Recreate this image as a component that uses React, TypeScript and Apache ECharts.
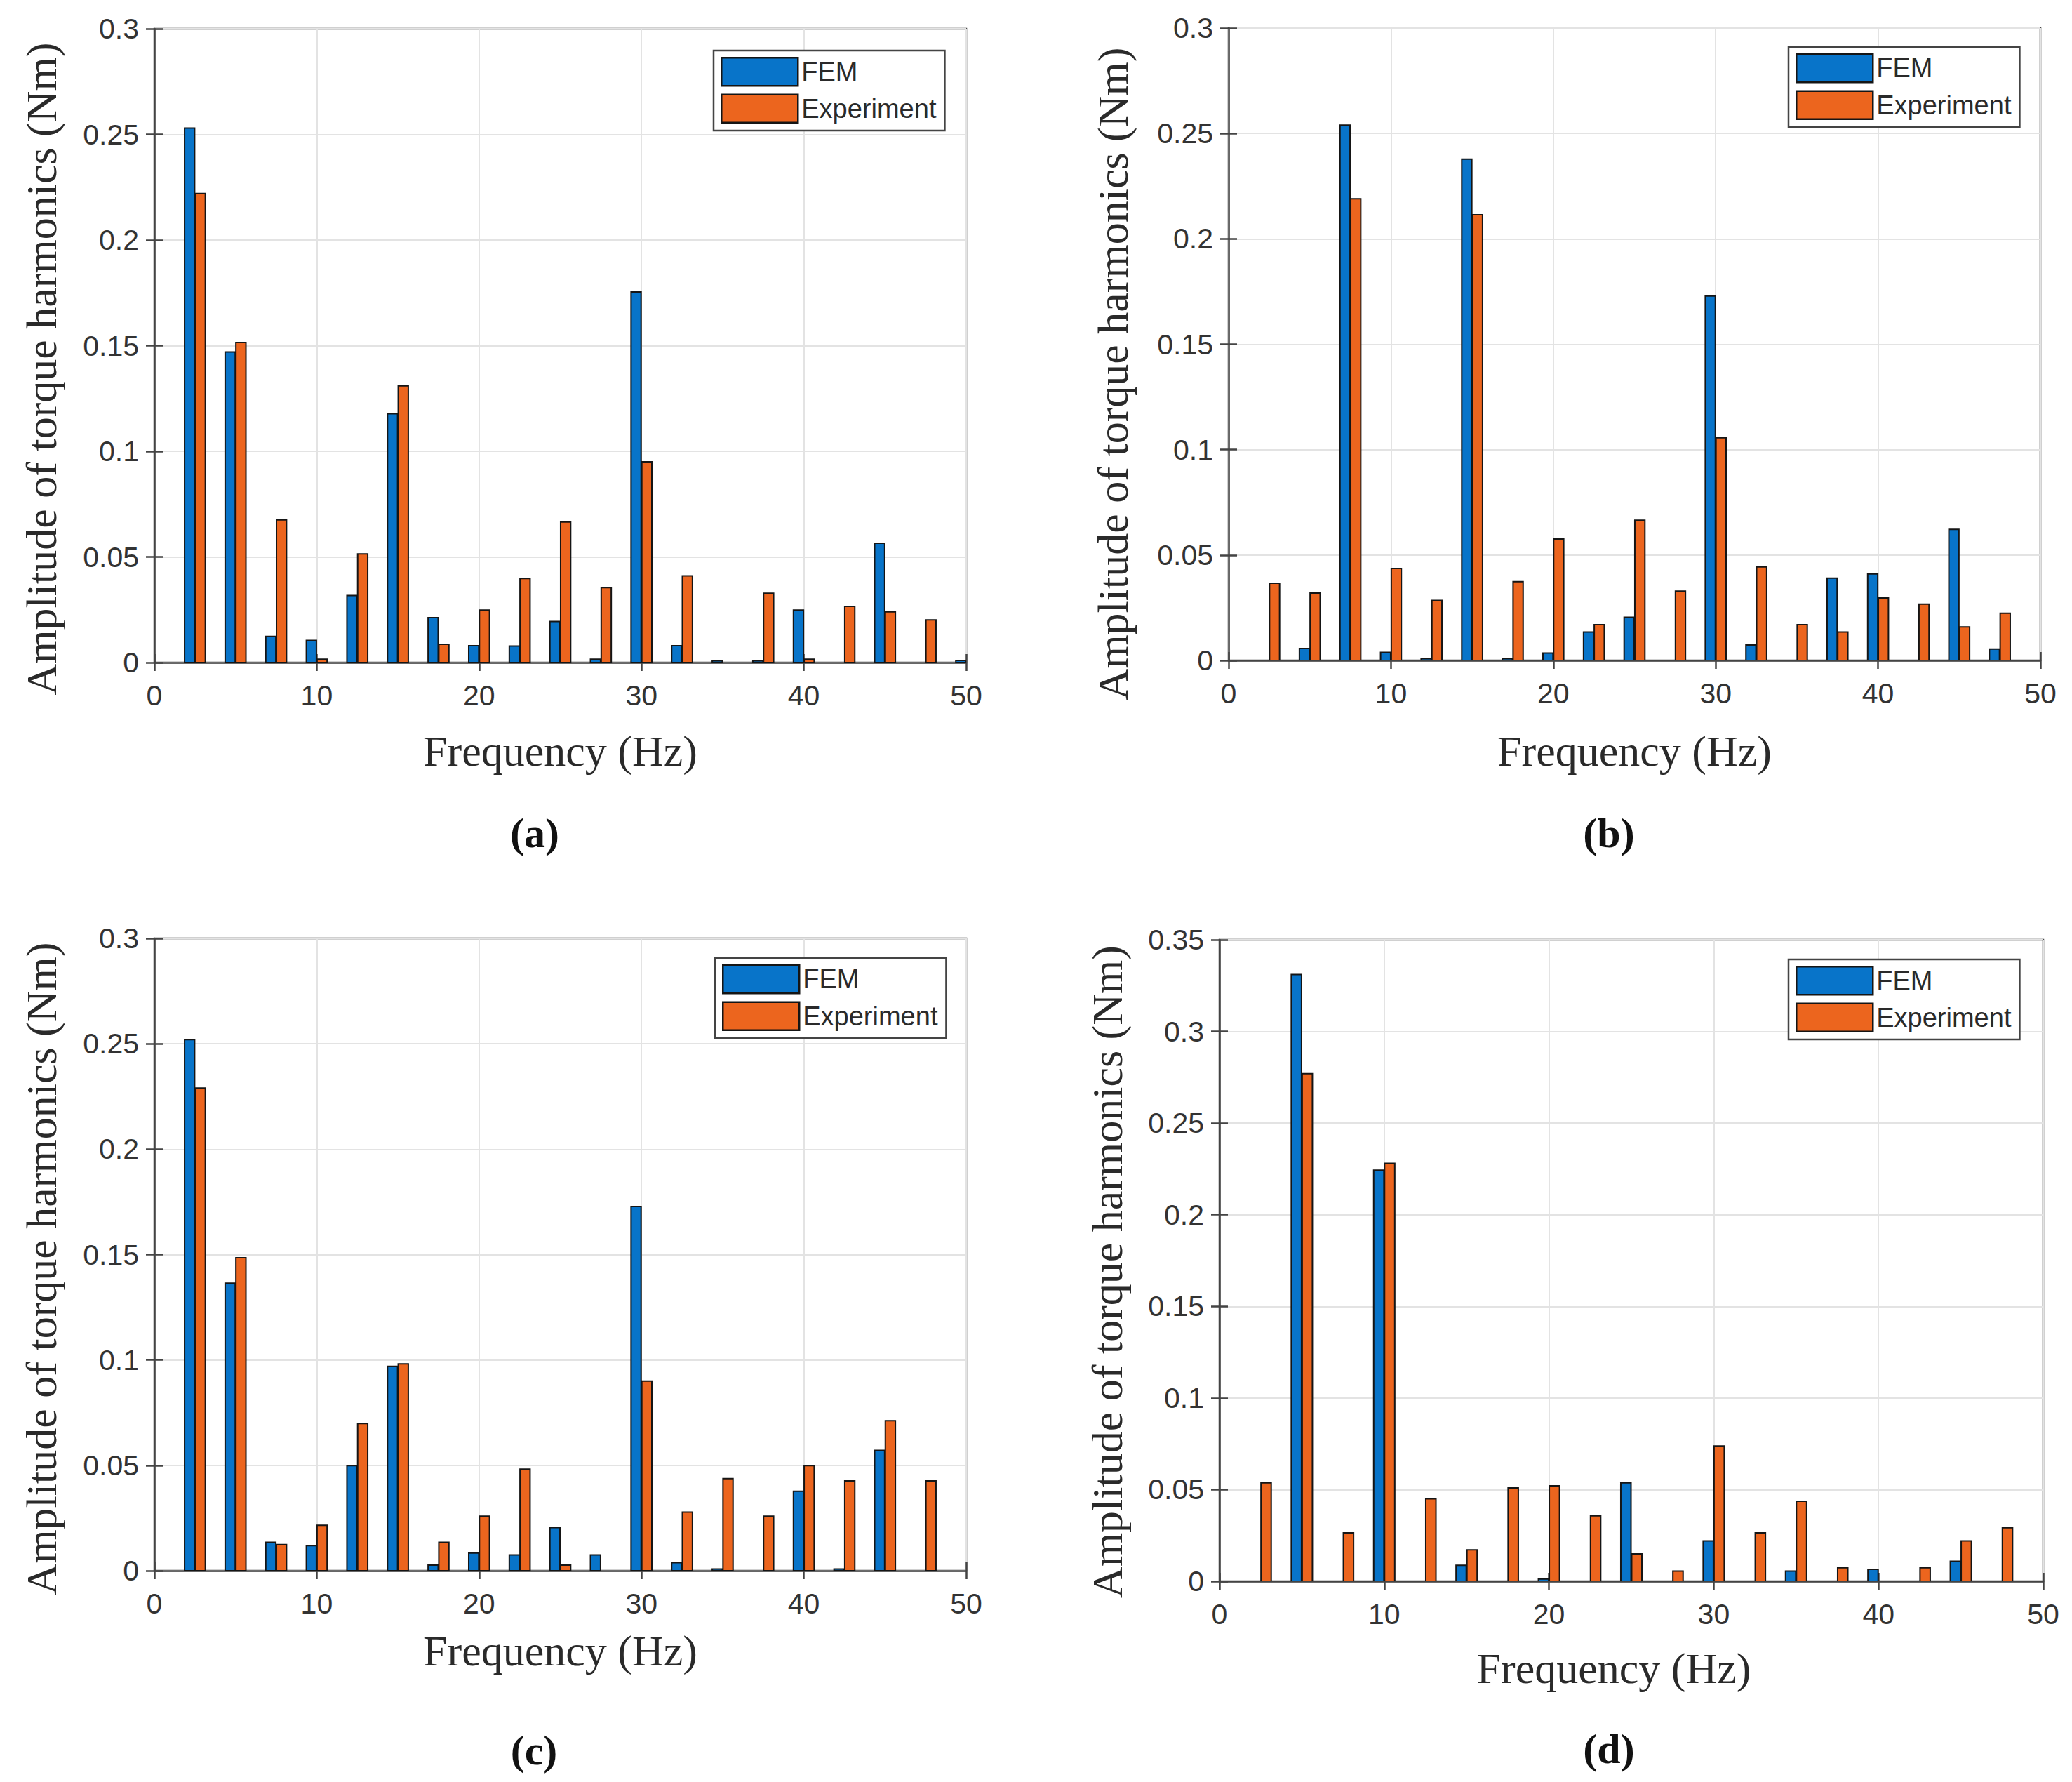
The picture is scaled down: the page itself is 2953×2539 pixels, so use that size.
import React, { useEffect, useRef } from "react";
import * as echarts from "echarts";

const FREQ = [2.5, 5, 7.5, 10, 12.5, 15, 17.5, 20, 22.5, 25, 27.5, 30, 32.5, 35, 37.5, 40, 42.5, 45, 47.5, 50];
const X_TICKS = [0, 10, 20, 30, 40, 50];

const A_FEM = [0.253, 0.147, 0.0124, 0.0105, 0.0317, 0.1178, 0.0213, 0.008, 0.0078, 0.0194, 0.0016, 0.1754, 0.008, 0.0008, 0.0008, 0.0248, 0, 0.0565, 0, 0.001];
const A_EXP = [0.222, 0.1515, 0.0675, 0.0016, 0.0514, 0.131, 0.0086, 0.0248, 0.0398, 0.0665, 0.0355, 0.095, 0.041, 0, 0.0328, 0.0016, 0.0266, 0.024, 0.0202, 0];

const B_FEM = [0, 0.0057, 0.254, 0.0038, 0.0008, 0.2378, 0.0008, 0.0035, 0.0135, 0.0205, 0, 0.1729, 0.0073, 0, 0.039, 0.041, 0, 0.0622, 0.0054, 0];
const B_EXP = [0.0366, 0.032, 0.219, 0.0436, 0.0285, 0.2114, 0.0374, 0.0576, 0.017, 0.0665, 0.0329, 0.1056, 0.0444, 0.017, 0.0135, 0.0296, 0.0267, 0.0159, 0.0224, 0];

const C_FEM = [0.252, 0.1364, 0.0135, 0.0119, 0.0499, 0.097, 0.0027, 0.0084, 0.0075, 0.0205, 0.0075, 0.1728, 0.0038, 0.0008, 0, 0.0377, 0.0008, 0.0571, 0, 0];
const C_EXP = [0.229, 0.1485, 0.0124, 0.0216, 0.0698, 0.0981, 0.0135, 0.0259, 0.0482, 0.0027, 0, 0.09, 0.0278, 0.0437, 0.0259, 0.0499, 0.0426, 0.0712, 0.0426, 0];

const D_FEM = [0, 0.331, 0, 0.2243, 0, 0.0087, 0, 0.0012, 0, 0.0537, 0, 0.022, 0, 0.0056, 0, 0.0065, 0, 0.0109, 0, 0];
const D_EXP = [0.0537, 0.277, 0.0264, 0.228, 0.045, 0.0171, 0.0509, 0.0521, 0.0357, 0.0149, 0.0056, 0.0738, 0.0264, 0.0437, 0.0074, 0, 0.0074, 0.022, 0.0292, 0];

const Y_MAX = [0.3, 0.3, 0.3, 0.35];
const SUB_LABELS = ["(a)", "(b)", "(c)", "(d)"];
const SERIES_NAMES = ["FEM", "Experiment"];
const X_NAME = "Frequency (Hz)";
const Y_NAME = "Amplitude of torque harmonics (Nm)";

const PANELS = [
  { fem: A_FEM, exp: A_EXP },
  { fem: B_FEM, exp: B_EXP },
  { fem: C_FEM, exp: C_EXP },
  { fem: D_FEM, exp: D_EXP },
];

// layout (pixels)
const GRIDS = [
  { left: 220, top: 41, width: 1157, height: 903 },
  { left: 1751, top: 40, width: 1157, height: 901 },
  { left: 220, top: 1337, width: 1157, height: 901 },
  { left: 1738, top: 1339, width: 1174, height: 914 },
];
const LEGEND_POS = [
  { left: 1017, top: 72 },
  { left: 2549, top: 67 },
  { left: 1019, top: 1365 },
  { left: 2549, top: 1367 },
];
const SUB_POS = [
  { x: 762, y: 1187 },
  { x: 2293, y: 1187 },
  { x: 761, y: 2494 },
  { x: 2293, y: 2492 },
];
const X_NAME_GAP = [95, 98, 83, 93];
const Y_NAME_GAP = [130, 134, 130, 129];
const Y_NAME_SHIFT = [33, 42, 20, 16];

const FEM_COLOR = "#0874C9";
const EXP_COLOR = "#EC651E";
const BAR_W = 0.62;
const BAR_OFF = 0.33;
const SANS = "'Liberation Sans', Arial, sans-serif";
const SERIF = "'Liberation Serif', 'Times New Roman', serif";
const AXIS_COLOR = "#444";
const TEXT_COLOR = "#2a2a2a";

function makeRender(off: number, color: string) {
  return (params: any, api: any) => {
    const x = api.value(0);
    const v = api.value(1);
    if (!v) return null;
    const a = api.coord([x + off - BAR_W / 2, v]);
    const b = api.coord([x + off + BAR_W / 2, 0]);
    return {
      type: "rect",
      shape: { x: a[0], y: a[1], width: b[0] - a[0], height: b[1] - a[1] },
      style: { fill: color, stroke: "#151515", lineWidth: 2 },
    };
  };
}

function buildOption() {
  const grid: any[] = [];
  const xAxis: any[] = [];
  const yAxis: any[] = [];
  const series: any[] = [];
  const legend: any[] = [];
  const graphic: any[] = [];

  PANELS.forEach((p, i) => {
    grid.push({
      ...GRIDS[i],
      containLabel: false,
      show: true,
      borderColor: AXIS_COLOR,
      borderWidth: 2.5,
      backgroundColor: "#fff",
    });
    const xBase = {
      type: "value",
      gridIndex: i,
      min: X_TICKS[0],
      max: X_TICKS[X_TICKS.length - 1],
      interval: 10,
    };
    xAxis.push({
      ...xBase,
      position: "bottom",
      name: X_NAME,
      nameLocation: "middle",
      nameGap: X_NAME_GAP[i],
      nameTextStyle: { fontFamily: SERIF, fontSize: 62, color: TEXT_COLOR, padding: i === 3 ? [0, 50, 0, 0] : [0, 0, 0, 0] },
      axisLine: { show: true, lineStyle: { color: AXIS_COLOR, width: 2.5 } },
      axisTick: { show: true, inside: true, length: 12, lineStyle: { color: AXIS_COLOR, width: 2.5 } },
      axisLabel: { show: true, margin: 26, fontFamily: SANS, fontSize: 41, color: "#333" },
      splitLine: { show: true, lineStyle: { color: "#e3e3e3", width: 2 } },
    });
    xAxis.push({
      ...xBase,
      position: "top",
      axisLine: { show: false },
      axisTick: { show: true, inside: true, length: 12, lineStyle: { color: AXIS_COLOR, width: 2.5 } },
      axisLabel: { show: false },
      splitLine: { show: false },
    });
    const yBase = {
      type: "value",
      gridIndex: i,
      min: 0,
      max: Y_MAX[i],
      interval: 0.05,
    };
    yAxis.push({
      ...yBase,
      position: "left",
      name: Y_NAME,
      nameLocation: "middle",
      nameRotate: 90,
      nameGap: Y_NAME_GAP[i],
      nameTextStyle: {
        fontFamily: SERIF,
        fontSize: 62,
        color: TEXT_COLOR,
        padding: [0, Y_NAME_SHIFT[i] * 2, 0, 0],
      },
      axisLine: { show: true, lineStyle: { color: AXIS_COLOR, width: 2.5 } },
      axisTick: { show: true, inside: true, length: 12, lineStyle: { color: AXIS_COLOR, width: 2.5 } },
      axisLabel: {
        show: true,
        margin: 22,
        fontFamily: SANS,
        fontSize: 41,
        color: "#333",
        formatter: (v: number) => String(Math.round(v * 100) / 100),
      },
      splitLine: { show: true, lineStyle: { color: "#e3e3e3", width: 2 } },
    });
    yAxis.push({
      ...yBase,
      position: "right",
      axisLine: { show: false },
      axisTick: { show: true, inside: true, length: 12, lineStyle: { color: AXIS_COLOR, width: 2.5 } },
      axisLabel: { show: false },
      splitLine: { show: false },
    });

    series.push({
      type: "custom",
      name: SERIES_NAMES[0],
      xAxisIndex: i * 2,
      yAxisIndex: i * 2,
      clip: true,
      itemStyle: { color: FEM_COLOR },
      renderItem: makeRender(-BAR_OFF, FEM_COLOR),
      encode: { x: 0, y: 1 },
      data: FREQ.map((f, k) => [f, p.fem[k]]),
    });
    series.push({
      type: "custom",
      name: SERIES_NAMES[1],
      xAxisIndex: i * 2,
      yAxisIndex: i * 2,
      clip: true,
      itemStyle: { color: EXP_COLOR },
      renderItem: makeRender(BAR_OFF, EXP_COLOR),
      encode: { x: 0, y: 1 },
      data: FREQ.map((f, k) => [f, p.exp[k]]),
    });

    legend.push({
      ...LEGEND_POS[i],
      orient: "vertical",
      icon: "rect",
      itemWidth: 109,
      itemHeight: 40,
      itemGap: 10,
      padding: [9, 12, 10, 10],
      borderColor: "#444",
      borderWidth: 2.5,
      backgroundColor: "#fff",
      selectedMode: false,
      textStyle: { fontFamily: SANS, fontSize: 38, color: TEXT_COLOR, padding: [0, 0, 0, 0] },
      data: [
        { name: SERIES_NAMES[0], itemStyle: { color: FEM_COLOR, borderColor: "#151515", borderWidth: 2.5 } },
        { name: SERIES_NAMES[1], itemStyle: { color: EXP_COLOR, borderColor: "#151515", borderWidth: 2.5 } },
      ],
    });

    graphic.push({
      type: "text",
      x: SUB_POS[i].x,
      y: SUB_POS[i].y,
      style: {
        text: SUB_LABELS[i],
        fontFamily: SERIF,
        fontWeight: "bold",
        fontSize: 60,
        fill: "#111",
        align: "center",
        verticalAlign: "middle",
      },
    });
  });

  return {
    animation: false,
    backgroundColor: "#fff",
    grid,
    xAxis,
    yAxis,
    series,
    legend,
    graphic,
  };
}

export default function App() {
  const ref = useRef<HTMLDivElement>(null);
  useEffect(() => {
    document.body.style.margin = "0";
    if (!ref.current) return;
    const chart = echarts.init(ref.current, undefined, { renderer: "svg" });
    chart.setOption(buildOption() as any);
    return () => chart.dispose();
  }, []);
  return <div ref={ref} style={{ width: 2953, height: 2539, background: "#fff" }} />;
}
